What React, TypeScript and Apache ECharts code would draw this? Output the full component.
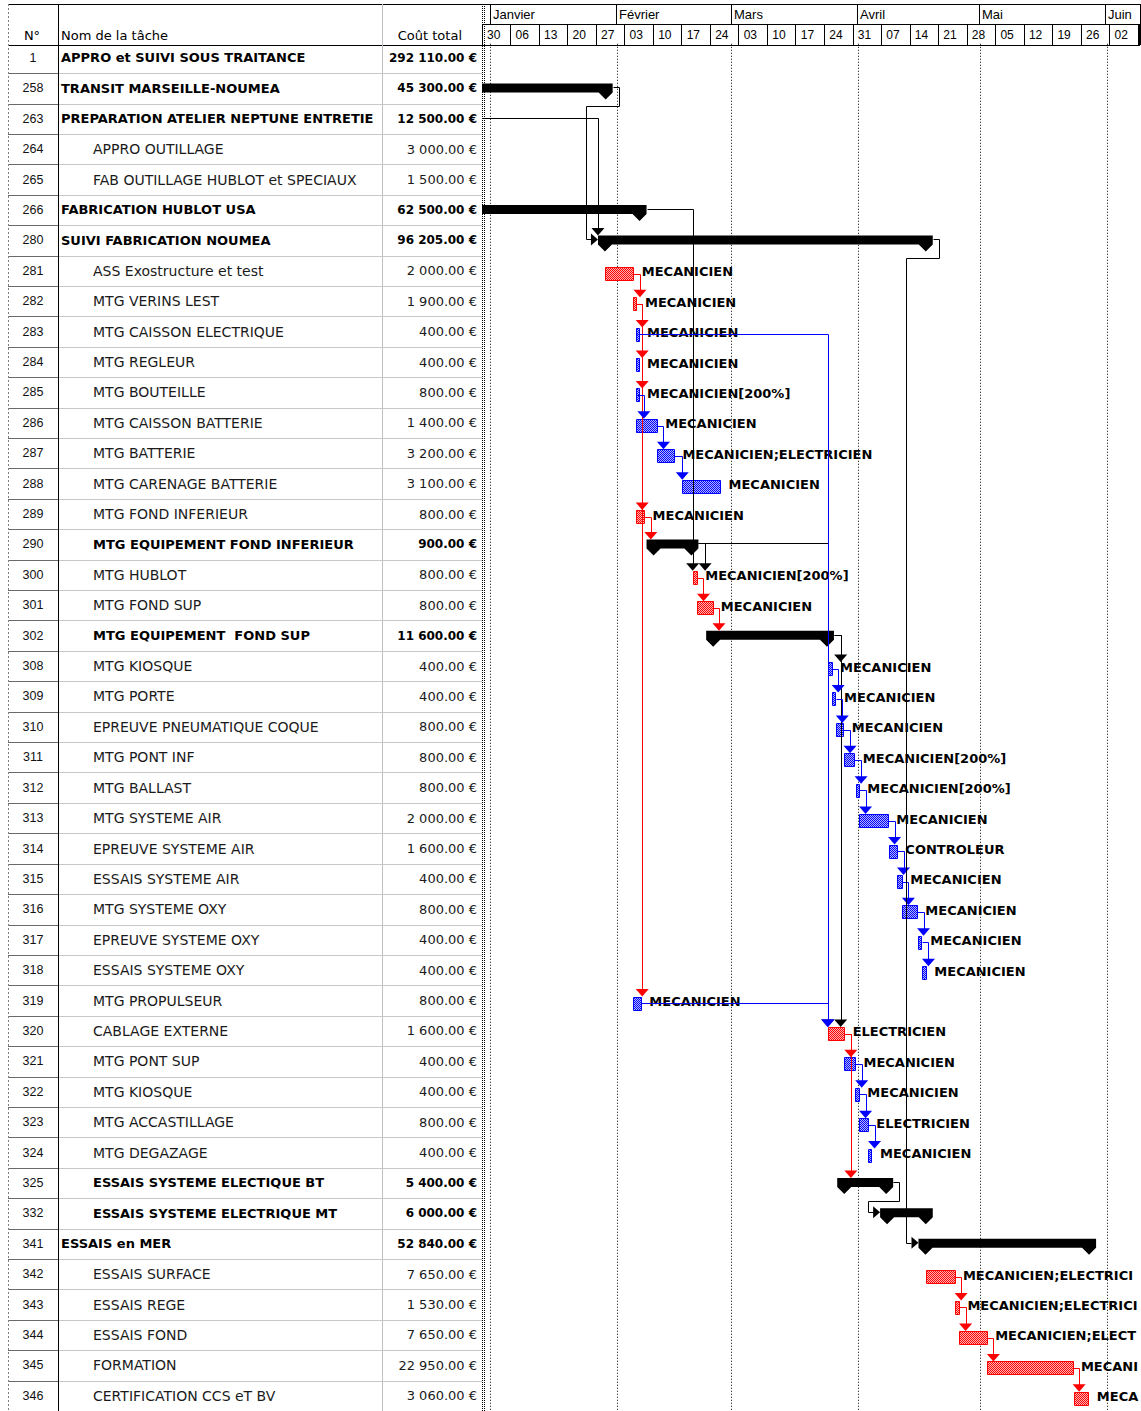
import React, { useEffect, useRef } from 'react';
import * as echarts from 'echarts';

// ---------------- data ----------------
const taskIds = ['1','258','263','264','265','266','280','281','282','283','284','285','286','287','288','289','290','300','301','302','308','309','310','311','312','313','314','315','316','317','318','319','320','321','322','323','324','325','332','341','342','343','344','345','346'];
const taskNames = [
  'APPRO et SUIVI SOUS TRAITANCE','TRANSIT MARSEILLE-NOUMEA','PREPARATION ATELIER NEPTUNE ENTRETIEN','APPRO OUTILLAGE','FAB OUTILLAGE HUBLOT et SPECIAUX',
  'FABRICATION HUBLOT USA','SUIVI FABRICATION NOUMEA','ASS Exostructure et test','MTG VERINS LEST','MTG CAISSON ELECTRIQUE','MTG REGLEUR','MTG BOUTEILLE',
  'MTG CAISSON BATTERIE','MTG BATTERIE','MTG CARENAGE BATTERIE','MTG FOND INFERIEUR','MTG EQUIPEMENT FOND INFERIEUR','MTG HUBLOT','MTG FOND SUP',
  'MTG EQUIPEMENT  FOND SUP','MTG KIOSQUE','MTG PORTE','EPREUVE PNEUMATIQUE COQUE','MTG PONT INF','MTG BALLAST','MTG SYSTEME AIR','EPREUVE SYSTEME AIR',
  'ESSAIS SYSTEME AIR','MTG SYSTEME OXY','EPREUVE SYSTEME OXY','ESSAIS SYSTEME OXY','MTG PROPULSEUR','CABLAGE EXTERNE','MTG PONT SUP','MTG KIOSQUE',
  'MTG ACCASTILLAGE','MTG DEGAZAGE','ESSAIS SYSTEME ELECTIQUE BT','ESSAIS SYSTEME ELECTRIQUE MT','ESSAIS en MER','ESSAIS SURFACE','ESSAIS REGE',
  'ESSAIS FOND','FORMATION','CERTIFICATION CCS eT BV'
];
const taskLevel = [0,0,0,1,1,0,0,1,1,1,1,1,1,1,1,1,1,1,1,1,1,1,1,1,1,1,1,1,1,1,1,1,1,1,1,1,1,1,1,0,1,1,1,1,1];
const taskSummary = [1,1,1,0,0,1,1,0,0,0,0,0,0,0,0,0,1,0,0,1,0,0,0,0,0,0,0,0,0,0,0,0,0,0,0,0,0,1,1,1,0,0,0,0,0];
const taskCost = [292110,45300,12500,3000,1500,62500,96205,2000,1900,400,400,800,1400,3200,3100,800,900,800,800,11600,400,400,800,800,800,2000,1600,400,800,400,400,800,1600,400,400,800,400,5400,6000,52840,7650,1530,7650,22950,3060];
// N = no bar, S = summary, C = critical task, T = task
const taskKind = ['N','S','S','N','N','S','S','C','C','T','T','T','T','T','T','C','S','C','C','S','T','T','T','T','T','T','T','T','T','T','T','T','C','T','T','T','T','S','S','S','C','C','C','C','C'];
// days after Monday 30 Dec 2002
const taskStart = [null,-10,-40,null,null,-10,28.4,30.1,37.1,37.6,37.6,37.6,37.7,42.9,49.05,37.7,40.3,51.6,52.6,54.9,84.7,85.8,86.7,88.7,91.5,92.4,99.7,101.6,102.8,106.9,107.7,37.05,84.7,88.7,91.35,92.3,94.6,87.0,97.5,106.9,108.7,115.8,116.8,123.6,145.0];
const taskEnd =   [null,32.0,-5,null,null,40.3,110.4,37.05,37.6,37.9,37.9,38.0,42.8,47.0,58.3,39.7,53.0,52.6,56.4,86.2,85.6,86.6,88.5,91.2,92.3,99.4,101.6,102.8,106.5,107.7,108.7,38.9,88.7,91.35,92.3,94.5,95.4,100.7,110.4,150.4,115.7,116.8,123.6,144.6,148.5];
const taskResource = ['','','','','','','','MECANICIEN','MECANICIEN','MECANICIEN','MECANICIEN','MECANICIEN[200%]','MECANICIEN','MECANICIEN;ELECTRICIEN','MECANICIEN','MECANICIEN','',
  'MECANICIEN[200%]','MECANICIEN','','MECANICIEN','MECANICIEN','MECANICIEN','MECANICIEN[200%]','MECANICIEN[200%]','MECANICIEN','CONTROLEUR','MECANICIEN','MECANICIEN',
  'MECANICIEN','MECANICIEN','MECANICIEN','ELECTRICIEN','MECANICIEN','MECANICIEN','ELECTRICIEN','MECANICIEN','','','','MECANICIEN;ELECTRICIEN','MECANICIEN;ELECTRICIEN',
  'MECANICIEN;ELECTRICIEN','MECANICIEN','MECANICIEN'];
const taskLinks = [
  ['258','280'],['263','280'],['266','300'],['281','282'],['282','283'],['282','284'],['282','285'],['282','289'],['282','319'],
  ['285','286'],['286','287'],['287','288'],['289','290'],['290','300'],['290','320'],['283','320'],['300','301'],['301','302'],
  ['302','308'],['302','320'],['308','309'],['309','310'],['310','311'],['311','312'],['312','313'],['313','314'],['314','315'],
  ['315','316'],['316','317'],['317','318'],['319','320'],['320','321'],['320','325'],['321','322'],['322','323'],['323','324'],
  ['325','332'],['280','341'],['342','343'],['343','344'],['344','345'],['345','346']
];
const monthNames = ['Janvier','Février','Mars','Avril','Mai','Juin'];
const monthStartDay = [2, 33, 61, 92, 122, 153];
const weekLabels = ['30','06','13','20','27','03','10','17','24','03','10','17','24','31','07','14','21','28','05','12','19','26','02'];

// ---------------- layout / style ----------------
const FN = '"DejaVu Sans", Verdana, sans-serif';
const FA = '"Liberation Sans", Arial, sans-serif';
const GL = 482, GW = 659, DAYS = 161.4;
const ROW0 = 58, ROWH = 30.46, NROWS = taskIds.length;
const KCOL: any = { S: '#000000', C: '#ff0000', T: '#0000ff' };

const fmtCost = (n: number) => String(n).replace(/\B(?=(\d{3})+(?!\d))/g, ' ') + '.00 €';

function geom(api: any, row: number) {
  const rc = api.coord([0, row])[1];
  if (taskKind[row] === 'S') return { rc, top: rc - 5, mid: rc - 1 };
  return { rc, top: rc - 4, mid: rc + 2.75 };
}

function ln(x1: number, y1: number, x2: number, y2: number, stroke: string, dash?: number[], w = 1) {
  return { type: 'line', z: 100, silent: true, shape: { x1, y1, x2, y2 }, style: { stroke, lineWidth: w, lineDash: dash } };
}

function makePattern(c1: string, c2: string, fallback: string): any {
  try {
    const cv = document.createElement('canvas');
    cv.width = 2; cv.height = 2;
    const ctx = cv.getContext('2d');
    if (!ctx) return fallback;
    ctx.fillStyle = c2; ctx.fillRect(0, 0, 2, 2);
    ctx.fillStyle = c1; ctx.fillRect(0, 0, 1, 1); ctx.fillRect(1, 1, 1, 1);
    return { image: cv.toDataURL(), repeat: 'repeat', imageWidth: 2, imageHeight: 2 };
  } catch (e) {
    return fallback;
  }
}

export default function App() {
  const ref = useRef<HTMLDivElement>(null);
  useEffect(() => {
    if (!ref.current) return;
    const chart = echarts.init(ref.current, null, { renderer: 'svg', width: 1141, height: 1411 });
    const KFILL: any = {
      C: makePattern('#ff0000', '#ffb4b4', '#f26060'),
      T: makePattern('#0000ff', '#b4b4ff', '#5050f5'),
    };

    const barData: any[] = [];
    taskKind.forEach((k, i) => { if (k !== 'N') barData.push([taskStart[i], i, taskEnd[i]]); });
    const linkData = taskLinks.map((l, k) => [0, 0, k]);

    const option: any = {
      animation: false,
      backgroundColor: '#ffffff',
      grid: [
        { left: GL, top: ROW0 - ROWH / 2, width: GW, height: NROWS * ROWH },
        { left: GL, top: 24, width: GW, height: 21 },
      ],
      xAxis: [
        { type: 'value', gridIndex: 0, min: 0, max: DAYS, show: false },
        {
          type: 'value', gridIndex: 1, min: 0, max: DAYS, interval: 7, position: 'bottom',
          axisLine: { show: true, lineStyle: { color: '#000', width: 1 } },
          axisTick: { show: false },
          splitLine: { show: true, lineStyle: { color: '#000', width: 1 } },
          axisLabel: {
            inside: true, margin: 10, align: 'left', verticalAlign: 'middle', padding: [0, 0, 0, 5],
            showMaxLabel: false, fontFamily: FA, fontSize: 12, color: '#000',
            formatter: (v: number) => {
              const k = Math.round(v / 7);
              return Math.abs(v - 7 * k) < 1e-6 && weekLabels[k] ? weekLabels[k] : '';
            },
          },
        },
      ],
      yAxis: [
        { type: 'value', gridIndex: 0, min: -0.5, max: NROWS - 0.5, inverse: true, show: false },
        { type: 'value', gridIndex: 1, min: 0, max: 1, show: false },
      ],
      graphic: [
        ln(8, 4.5, 1141, 4.5, '#000'),
        ln(8, 45.5, 482, 45.5, '#000'),
        ln(482, 24.5, 1141, 24.5, '#000'),
        ln(1140.5, 4, 1140.5, 45, '#000'),
        ln(8.5, 4, 8.5, 1411, '#808080', [2, 2]),
        ln(58.5, 4, 58.5, 1411, '#000'),
        ln(382.5, 4, 382.5, 1411, '#c0c0c0'),
        ln(482.5, 4, 482.5, 1411, '#000', [1, 1]),
        ln(484.5, 4, 484.5, 1411, '#000', [1, 1]),
        { type: 'text', z: 100, x: 32, y: 35, style: { text: 'N°', align: 'center', verticalAlign: 'middle', fontFamily: FN, fontSize: 13, fill: '#000' } },
        { type: 'text', z: 100, x: 61, y: 35, style: { text: 'Nom de la tâche', align: 'left', verticalAlign: 'middle', fontFamily: FN, fontSize: 13, fill: '#000' } },
        { type: 'text', z: 100, x: 462, y: 35, style: { text: 'Coût total', align: 'right', verticalAlign: 'middle', fontFamily: FN, fontSize: 13, fill: '#000' } },
      ],
      series: [
        // month header
        {
          type: 'custom', xAxisIndex: 1, yAxisIndex: 1, clip: false, silent: true,
          data: monthStartDay.map((d, i) => [d, 0, i]),
          renderItem: (params: any, api: any) => {
            const i = api.value(2);
            const x = Math.round(api.coord([api.value(0), 0])[0]) + 0.5;
            const cs = params.coordSys;
            const y0 = cs.y - 20, y1 = cs.y;
            return {
              type: 'group', children: [
                { type: 'line', shape: { x1: x, y1: y0, x2: x, y2: y1 }, style: { stroke: '#000', lineWidth: 1 } },
                { type: 'text', x: x + 2.5, y: (y0 + y1) / 2 + 0.5, style: { text: monthNames[i], align: 'left', verticalAlign: 'middle', fontFamily: FA, fontSize: 13, fill: '#000' } },
              ],
            };
          },
        },
        // dotted month gridlines in body
        {
          type: 'custom', xAxisIndex: 0, yAxisIndex: 0, clip: true, silent: true, z: 1,
          data: monthStartDay.map((d) => [d, 0]),
          renderItem: (params: any, api: any) => {
            const x = Math.round(api.coord([api.value(0), 0])[0]) + 0.5;
            const cs = params.coordSys;
            return { type: 'line', shape: { x1: x, y1: cs.y - 20, x2: x, y2: cs.y + cs.height }, style: { stroke: '#000', lineWidth: 1, lineDash: [1, 2] } };
          },
        },
        // table
        {
          type: 'custom', xAxisIndex: 0, yAxisIndex: 0, clip: false, silent: true, z: 2,
          data: taskIds.map((_, i) => [0, i]),
          renderItem: (params: any, api: any) => {
            const i = api.value(1);
            const yc = api.coord([0, i])[1];
            const rh = api.size([0, 1])[1];
            const yb = Math.round(yc + rh / 2) + 0.5;
            const bold = !!taskSummary[i];
            return {
              type: 'group', children: [
                { type: 'line', shape: { x1: 8, y1: yb, x2: 58, y2: yb }, style: { stroke: '#6a6a6a', lineWidth: 1 } },
                { type: 'line', shape: { x1: 58, y1: yb, x2: 482, y2: yb }, style: { stroke: '#c8c8c8', lineWidth: 1 } },
                { type: 'text', x: 33, y: yc, style: { text: taskIds[i], align: 'center', verticalAlign: 'middle', fontFamily: FA, fontSize: 12.5, fill: '#111' } },
                {
                  type: 'text', x: taskLevel[i] ? 93 : 61, y: yc,
                  style: {
                    text: taskNames[i], align: 'left', verticalAlign: 'middle', fontFamily: FN,
                    fontSize: bold ? 13 : 14, fontWeight: bold ? 'bold' : 'normal', fill: bold ? '#000' : '#1a1a1a',
                    width: 382 - (taskLevel[i] ? 93 : 61) - 3, overflow: 'truncate', ellipsis: '',
                  },
                },
                {
                  type: 'text', x: 477, y: yc,
                  style: { text: fmtCost(taskCost[i]), align: 'right', verticalAlign: 'middle', fontFamily: FN, fontSize: bold ? 12 : 13, fontWeight: bold ? 'bold' : 'normal', fill: bold ? '#000' : '#1a1a1a' },
                },
              ],
            };
          },
        },
        // bars + resource labels
        {
          type: 'custom', xAxisIndex: 0, yAxisIndex: 0, clip: true, silent: true, z: 3,
          data: barData,
          encode: { x: [0, 2], y: 1 },
          renderItem: (params: any, api: any) => {
            const s = api.value(0), i = api.value(1), e = api.value(2);
            const kind = taskKind[i];
            const p0 = api.coord([s, i]);
            const p1 = api.coord([e, i]);
            const rc = p0[1];
            const x0 = p0[0];
            let x1 = p1[0];
            if (kind === 'S') {
              const t = rc - 5, b = rc + 4;
              return {
                type: 'polygon',
                shape: { points: [[x0, t], [x1, t], [x1, b], [x1 - 7, b + 7], [x1 - 14, b], [x0 + 14, b], [x0 + 7, b + 7], [x0, b]] },
                style: { fill: '#000' },
              };
            }
            if (x1 - x0 < 3) x1 = x0 + 3;
            const cs = params.coordSys;
            const lx = x1 + 8.5;
            const avail = cs.x + cs.width - lx - 1;
            return {
              type: 'group', children: [
                { type: 'rect', shape: { x: Math.round(x0) + 0.5, y: Math.round(rc - 4) + 0.5, width: Math.max(2, Math.round(x1 - x0)), height: 13 }, style: { fill: KFILL[kind], stroke: KCOL[kind], lineWidth: 1 } },
                { type: 'text', x: lx, y: rc + 1, style: { text: taskResource[i], align: 'left', verticalAlign: 'middle', fontFamily: FN, fontWeight: 'bold', fontSize: 13, fill: '#000', width: avail, overflow: 'truncate', ellipsis: '' } },
              ],
            };
          },
        },
        // links
        {
          type: 'custom', xAxisIndex: 0, yAxisIndex: 0, clip: true, silent: true, z: 4,
          data: linkData,
          renderItem: (params: any, api: any) => {
            const k = api.value(2);
            const pr = taskIds.indexOf(taskLinks[k][0]);
            const sr = taskIds.indexOf(taskLinks[k][1]);
            const pg = geom(api, pr), sg = geom(api, sr);
            const pEnd = api.coord([taskEnd[pr], pr])[0];
            const sStart = api.coord([taskStart[sr], sr])[0];
            const color = KCOL[taskKind[pr]];
            let pts: number[][];
            let arrow: number[][];
            if ((taskStart[sr] as number) < (taskEnd[pr] as number) - 2) {
              const xh = pEnd + 6, yd = pg.rc + 18, xl = sStart - 12;
              pts = [[pEnd, pg.mid], [xh, pg.mid], [xh, yd], [xl, yd], [xl, sg.mid], [sStart - 7, sg.mid]];
              arrow = [[sStart - 7, sg.mid - 6], [sStart, sg.mid], [sStart - 7, sg.mid + 6]];
            } else {
              const xv = Math.max(pEnd + 6.7, sStart);
              pts = [[pEnd, pg.mid], [xv, pg.mid], [xv, sg.top - 7]];
              arrow = [[xv - 6.5, sg.top - 7.5], [xv + 6.5, sg.top - 7.5], [xv, sg.top]];
            }
            pts = pts.map((p) => [Math.round(p[0]) + 0.5, Math.round(p[1]) + 0.5]);
            return {
              type: 'group', children: [
                { type: 'polyline', shape: { points: pts }, style: { stroke: color, lineWidth: 1, fill: null } },
                { type: 'polygon', shape: { points: arrow }, style: { fill: color } },
              ],
            };
          },
        },
      ],
    };
    chart.setOption(option);
    return () => chart.dispose();
  }, []);
  return <div ref={ref} style={{ position: 'absolute', left: 0, top: 0, width: 1141, height: 1411, background: '#fff' }} />;
}
